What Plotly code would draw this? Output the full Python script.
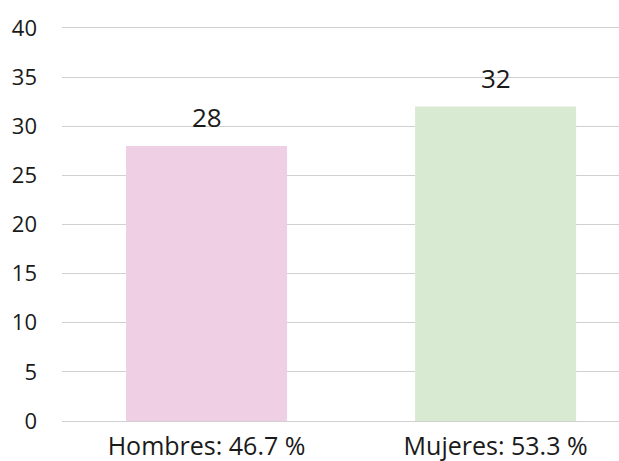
import plotly.graph_objects as go

categories = ["Hombres: 46.7 %", "Mujeres: 53.3 %"]
values = [28, 32]
colors = ["#efcfe4", "#d9ead3"]
y_ticks = [0, 5, 10, 15, 20, 25, 30, 35, 40]

FONT = "Open Sans, Noto Sans, sans-serif"
TXT = "#1a1a1a"

fig = go.Figure(go.Bar(
    x=categories, y=values, marker=dict(color=colors, line=dict(width=0)),
    width=0.557, hoverinfo="skip",
))

for c, v in zip(categories, values):
    fig.add_annotation(x=c, y=v, text=str(v), showarrow=False, yanchor="bottom",
                       yshift=9, font=dict(size=26, color=TXT, family=FONT))

fig.update_layout(
    width=619, height=461,
    margin=dict(l=62, r=0, t=26, b=40),
    paper_bgcolor="white", plot_bgcolor="white",
    showlegend=False,
    font=dict(family=FONT, size=22, color=TXT),
    xaxis=dict(range=[-0.5, 1.427], showgrid=False, showline=False, ticks="",
               tickfont=dict(size=25), automargin=False, ticklabelstandoff=8),
    yaxis=dict(range=[0, 40.2], tickvals=y_ticks, showgrid=True, gridcolor="#d0d0d0",
               gridwidth=1, zeroline=True, zerolinecolor="#d0d0d0", zerolinewidth=1,
               showline=False, ticks="", ticklabelstandoff=24, tickfont=dict(size=22),
               automargin=False),
)

fig.write_html(
    "out.html",
    config={"displayModeBar": False, "staticPlot": True},
    post_script="document.body.style.margin='0';document.body.style.overflow='hidden';",
)
